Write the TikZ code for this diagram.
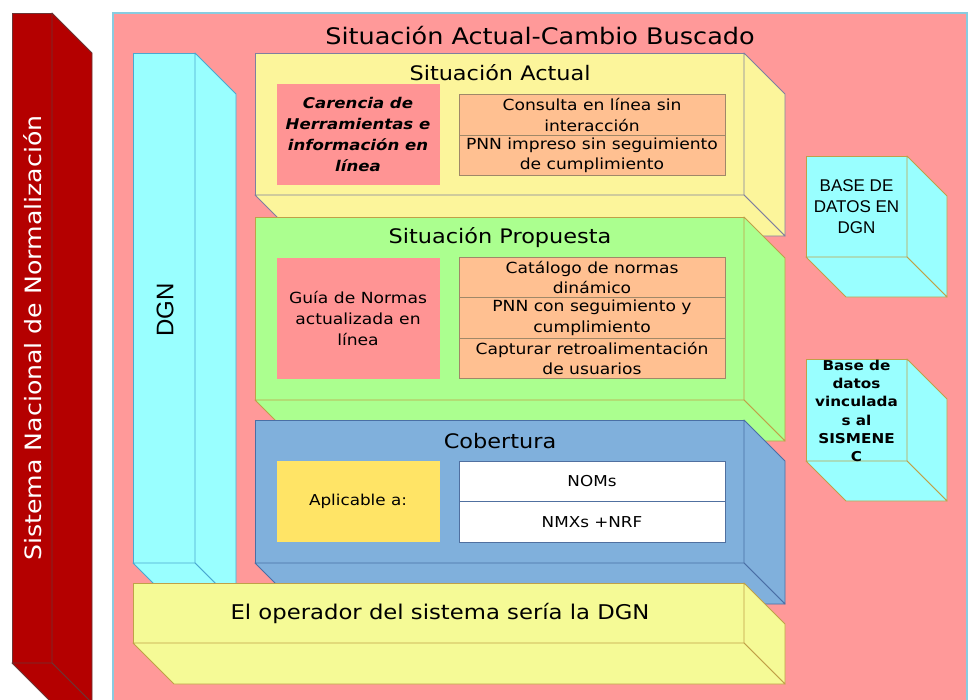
\documentclass[tikz,border=0pt]{standalone}
\usepackage{fontspec}
\setmainfont[FakeStretch=1.12]{DejaVu Sans}
\newfontfamily\arialf{Liberation Sans}
\definecolor{pinkbg}{HTML}{FF9999}
\definecolor{bordercol}{HTML}{88CCE0}
\definecolor{darkred}{HTML}{B40000}
\definecolor{redline}{HTML}{6B3535}
\definecolor{cyanf}{HTML}{99FFFF}
\definecolor{cyanline}{HTML}{4AA8D0}
\definecolor{yellowA}{HTML}{FCF59B}
\definecolor{yellowB}{HTML}{F5FA96}
\definecolor{grayline}{HTML}{7F7F9F}
\definecolor{oliveline}{HTML}{C0A048}
\definecolor{greenf}{HTML}{ABFF8F}
\definecolor{bluef}{HTML}{80B0DC}
\definecolor{blueline}{HTML}{4A6FA5}
\definecolor{redbox}{HTML}{FF9494}
\definecolor{orangef}{HTML}{FFC091}
\definecolor{orangeline}{HTML}{A08868}
\definecolor{goldf}{HTML}{FFE466}
\definecolor{tableline}{HTML}{5070A0}
\newcommand\solidbox[7]{%
  \filldraw[fill=#1,draw=#2,faceline] (#3,#4) rectangle (#5,#6);
  \filldraw[fill=#1,draw=#2,faceline] (#5,#4) -- (#5+#7,#4+#7) -- (#5+#7,#6+#7) -- (#5,#6) -- cycle;
  \filldraw[fill=#1,draw=#2,faceline] (#3,#6) -- (#5,#6) -- (#5+#7,#6+#7) -- (#3+#7,#6+#7) -- cycle;
}
\begin{document}
\begin{tikzpicture}[x=1pt,y=-1pt,
  faceline/.style={line width=0.9pt, line join=round},
  hdr/.style={font=\fontsize{20}{24}\selectfont, inner sep=0pt},
  redcell/.style={fill=redbox, draw=none, minimum width=163pt, minimum height=#1, inner sep=2pt, align=center},
  orcell/.style={fill=orangef, draw=orangeline, line width=0.8pt, minimum width=266pt, minimum height=#1, inner sep=0pt, align=center, font=\fontsize{15.3}{20.5}\selectfont},
  whcell/.style={fill=white, draw=tableline, line width=0.8pt, minimum width=266pt, minimum height=40.5pt, inner sep=0pt, align=center, font=\fontsize{15}{20}\selectfont}
]
\useasboundingbox (0,0) rectangle (974,699);
\clip (0,0) rectangle (974,699);
\fill[white] (0,0) rectangle (974,699);

% main background
\filldraw[fill=pinkbg, draw=bordercol, line width=2pt] (113,13) rectangle (967,730);

% left red bar
\solidbox{darkred}{redline}{12}{13}{52}{663}{40}
\node[rotate=90, text=white, font=\fontsize{22.5}{26}\selectfont, inner sep=0pt] (sisnac) at (33,338) {Sistema Nacional de Normalización};

% DGN column
\solidbox{cyanf}{cyanline}{133}{53}{195}{563}{41}
\node[rotate=90, font=\arialf\fontsize{24}{26}\selectfont, inner sep=0pt] (dgn) at (165,310) {DGN};

% Situacion Actual
\solidbox{yellowA}{grayline}{255}{53}{744}{195}{41}
\node[hdr] (actual) at (500,73) {Situación Actual};
\node[redcell=101pt, font=\bfseries\itshape\fontsize{14.8}{21}\selectfont] (carencia) at (358,134.5) {Carencia de\\Herramientas e\\información en\\línea};
\node[orcell=40.5pt] (consulta) at (592,115) {Consulta en línea sin\\interacción};
\node[orcell=40.5pt] (pnnimp) at (592,155.5) {PNN impreso sin seguimiento\\de cumplimiento};

% Situacion Propuesta
\solidbox{greenf}{oliveline}{255}{217}{744}{400}{41}
\node[hdr] (propuesta) at (500,238) {Situación Propuesta};
\node[redcell=121pt, font=\fontsize{15.3}{21}\selectfont] (guia) at (358,318) {Guía de Normas\\actualizada en\\línea};
\node[orcell=40.5pt] (catalogo) at (592,277.5) {Catálogo de normas\\dinámico};
\node[orcell=40.5pt] (pnncon) at (592,318) {PNN con seguimiento y\\cumplimiento};
\node[orcell=40.5pt] (captura) at (592,358.5) {Capturar retroalimentación\\de usuarios};

% Cobertura
\solidbox{bluef}{blueline}{255}{420}{744}{563}{41}
\node[hdr] (cobertura) at (500,441) {Cobertura};
\node[fill=goldf, minimum width=163pt, minimum height=81pt, inner sep=0pt, font=\fontsize{15}{20}\selectfont] (aplicable) at (358,501.5) {Aplicable a:};
\node[whcell] (noms) at (592,481.25) {NOMs};
\node[whcell] (nmxs) at (592,521.75) {NMXs +NRF};

% Operador
\solidbox{yellowB}{oliveline}{133}{583}{744}{643}{41}
\node[hdr, font=\fontsize{20.3}{24}\selectfont] (operador) at (440,613) {El operador del sistema sería la DGN};

% title
\node[font=\fontsize{22.8}{27}\selectfont, inner sep=0pt] (title) at (540,36) {Situación Actual-Cambio Buscado};

% right cubes
\solidbox{cyanf}{oliveline}{806}{156}{907}{257}{40}
\node[font=\arialf\fontsize{17}{21}\selectfont, align=center, inner sep=0pt] (bdgn) at (856.5,207) {BASE DE\\DATOS EN\\DGN};
\solidbox{cyanf}{oliveline}{806}{359}{907}{461}{40}
\node[font=\bfseries\fontsize{13.6}{18.2}\selectfont, align=center, inner sep=0pt] (bsis) at (856.5,411) {Base de\\datos\\vinculada\\s al\\SISMENE\\C};
\end{tikzpicture}
\end{document}
